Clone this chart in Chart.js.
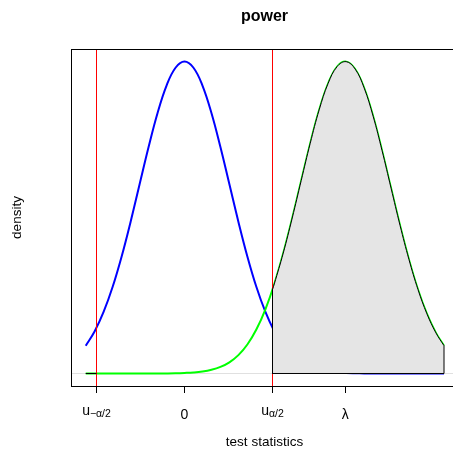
<!DOCTYPE html>
<html><head><meta charset="utf-8">
<script src="https://cdn.jsdelivr.net/npm/chart.js@4.4.1/dist/chart.umd.min.js"></script>
<style>html,body{margin:0;padding:0;overflow:hidden;background:#fff}canvas{display:block}</style>
</head><body>
<canvas id="c" width="470" height="450"></canvas>
<script>
// grid of test-statistic values at which the densities were read
const xs = [-2.2,-2.0,-1.8,-1.6,-1.4,-1.2,-1.0,-0.8,-0.6,-0.4,-0.2,0.0,0.2,0.4,0.6,0.8,1.0,1.2,1.4,1.6,1.8,2.0,2.2,2.4,2.6,2.8,3.0,3.2,3.4,3.6,3.8,4.0,4.2,4.4,4.6,4.8,5.0,5.2,5.4,5.6,5.78];
// density under H0 (blue)
const nullDensity = [0.0355,0.0540,0.0790,0.1109,0.1497,0.1942,0.2420,0.2897,0.3332,0.3683,0.3910,0.3989,0.3910,0.3683,0.3332,0.2897,0.2420,0.1942,0.1497,0.1109,0.0790,0.0540,0.0355,0.0224,0.0136,0.0079,0.0044,0.0024,0.0012,0.0006,0.0003,0.0001,0,0,0,0,0,0,0,0,0];
// density under H1 (green)
const altDensity = [0,0,0,0,0,0,0,0,0,0.0001,0.0003,0.0007,0.0013,0.0025,0.0047,0.0084,0.0143,0.0235,0.0371,0.0562,0.0818,0.1145,0.1540,0.1989,0.2468,0.2943,0.3372,0.3711,0.3925,0.3988,0.3894,0.3653,0.3292,0.2850,0.2371,0.1895,0.1456,0.1074,0.0762,0.0519,0.0355];
// shaded power region (upper tail under H1)
const powerX = [1.96,2.0,2.2,2.4,2.6,2.8,3.0,3.2,3.4,3.6,3.8,4.0,4.2,4.4,4.6,4.8,5.0,5.2,5.4,5.6,5.78];
const powerY = [0.1074,0.1145,0.1540,0.1989,0.2468,0.2943,0.3372,0.3711,0.3925,0.3988,0.3894,0.3653,0.3292,0.2850,0.2371,0.1895,0.1456,0.1074,0.0762,0.0519,0.0355];
// lower tail under H1 (practically zero)
const leftTailX = [-2.2,-1.96];
const leftTailY = [0,0];
// critical values
const critValues = [-1.96, 1.96];
// x tick positions and labels ("_" marks a subscript)
const tickValues = [-1.96, 0, 1.96, 3.58];
const tickLabels = ['u_\u2212\u03b1/2', '0', 'u_\u03b1/2', '\u03bb'];
const xLimits = [-2.528, 6.0915];
const yLimits = [-0.016, 0.415];

const FONT = "'Liberation Sans', Arial, Helvetica, sans-serif";
Chart.defaults.font.family = FONT;
Chart.defaults.color = '#000';
const pts = (X, Y) => X.map((x, i) => ({x: x, y: Y[i]}));
const n = powerX.length;
const edges = [
  {x: powerX[0], y: powerY[0]}, {x: powerX[0], y: 0},
  {x: powerX[n-1], y: 0}, {x: powerX[n-1], y: powerY[n-1]}
];

const rDecor = {
  id: 'rDecor',
  afterDraw(chart) {
    const {ctx, chartArea: a} = chart;
    const xs_ = chart.scales.x;
    ctx.save();
    ctx.strokeStyle = '#000';
    ctx.lineWidth = 1;
    ctx.strokeRect(Math.round(a.left) + 0.5, Math.round(a.top) + 0.5,
                   Math.round(a.right - a.left), Math.round(a.bottom - a.top));
    ctx.fillStyle = '#000';
    ctx.textBaseline = 'alphabetic';
    const MAIN = '14px ' + FONT, SUB = '10.5px ' + FONT;
    tickValues.forEach((v, i) => {
      const px = xs_.getPixelForValue(v);
      const parts = tickLabels[i].split('_');
      const base = parts[0], sub = parts[1];
      ctx.font = MAIN;
      const wb = ctx.measureText(base).width;
      if (sub === undefined) {
        ctx.textAlign = 'center';
        ctx.fillText(base, px, a.bottom + 32.5);
        return;
      }
      ctx.font = SUB;
      const ws = ctx.measureText(sub).width;
      const x0 = px - (wb + ws) / 2;
      ctx.textAlign = 'left';
      ctx.font = MAIN;
      ctx.fillText(base, x0, a.bottom + 28.5);
      ctx.font = SUB;
      ctx.fillText(sub, x0 + wb, a.bottom + 31);
    });
    ctx.restore();
  }
};

const base = {pointRadius: 0, pointHoverRadius: 0};
new Chart(document.getElementById('c'), {
  type: 'line',
  data: {
    datasets: [
      Object.assign({label: 'power edges', data: edges, borderColor: '#000', borderWidth: 1, tension: 0, fill: false, order: 0}, base),
      Object.assign({label: 'power', data: pts(powerX, powerY), borderColor: '#000', borderWidth: 1, backgroundColor: '#e5e5e5', fill: 'origin', tension: 0.4, order: 1}, base),
      Object.assign({label: 'lower tail', data: pts(leftTailX, leftTailY), borderColor: '#000', borderWidth: 1, backgroundColor: '#e5e5e5', fill: 'origin', tension: 0, order: 2}, base),
      ...critValues.map(c => Object.assign({label: 'critical ' + c, data: [{x: c, y: yLimits[0]}, {x: c, y: yLimits[1]}], borderColor: '#ff0000', borderWidth: 1, fill: false, tension: 0, order: 3}, base)),
      Object.assign({label: 'H1', data: pts(xs, altDensity), borderColor: '#00ff00', borderWidth: 2, fill: false, tension: 0.4, order: 4}, base),
      Object.assign({label: 'H0', data: pts(xs, nullDensity), borderColor: '#0000ff', borderWidth: 2, fill: false, tension: 0.4, order: 5}, base),
      Object.assign({label: 'zero', data: [{x: xLimits[0], y: 0}, {x: xLimits[1], y: 0}], borderColor: '#e0e0e0', borderWidth: 1, fill: false, tension: 0, order: 6}, base)
    ]
  },
  options: {
    responsive: false,
    animation: false,
    devicePixelRatio: 1,
    events: [],
    layout: {padding: {left: 0, right: 12, top: 0, bottom: 0}},
    plugins: {
      legend: {display: false},
      tooltip: {enabled: false},
      title: {display: true, text: 'power', fullSize: false, color: '#000',
              font: {size: 16, weight: 'bold', family: FONT},
              padding: {top: 6.5, bottom: 23.3}}
    },
    scales: {
      x: {
        type: 'linear', position: 'bottom', min: xLimits[0], max: xLimits[1],
        afterBuildTicks: s => { s.ticks = tickValues.map(v => ({value: v})); },
        afterFit: s => { s.height = 64; },
        ticks: {display: false},
        grid: {display: true, drawOnChartArea: false, drawTicks: true, tickLength: 7, color: '#000', lineWidth: 1},
        border: {display: false},
        title: {display: true, text: 'test statistics', color: '#000', font: {size: 13.5}, padding: {top: 0, bottom: 0}}
      },
      y: {
        type: 'linear', min: yLimits[0], max: yLimits[1],
        afterFit: s => { s.width = 71; },
        ticks: {display: false},
        grid: {display: false},
        border: {display: false},
        title: {display: true, text: 'density', color: '#000', font: {size: 13.5}, padding: {top: 9, bottom: 0}}
      }
    }
  },
  plugins: [rDecor]
});
</script>
</body></html>
